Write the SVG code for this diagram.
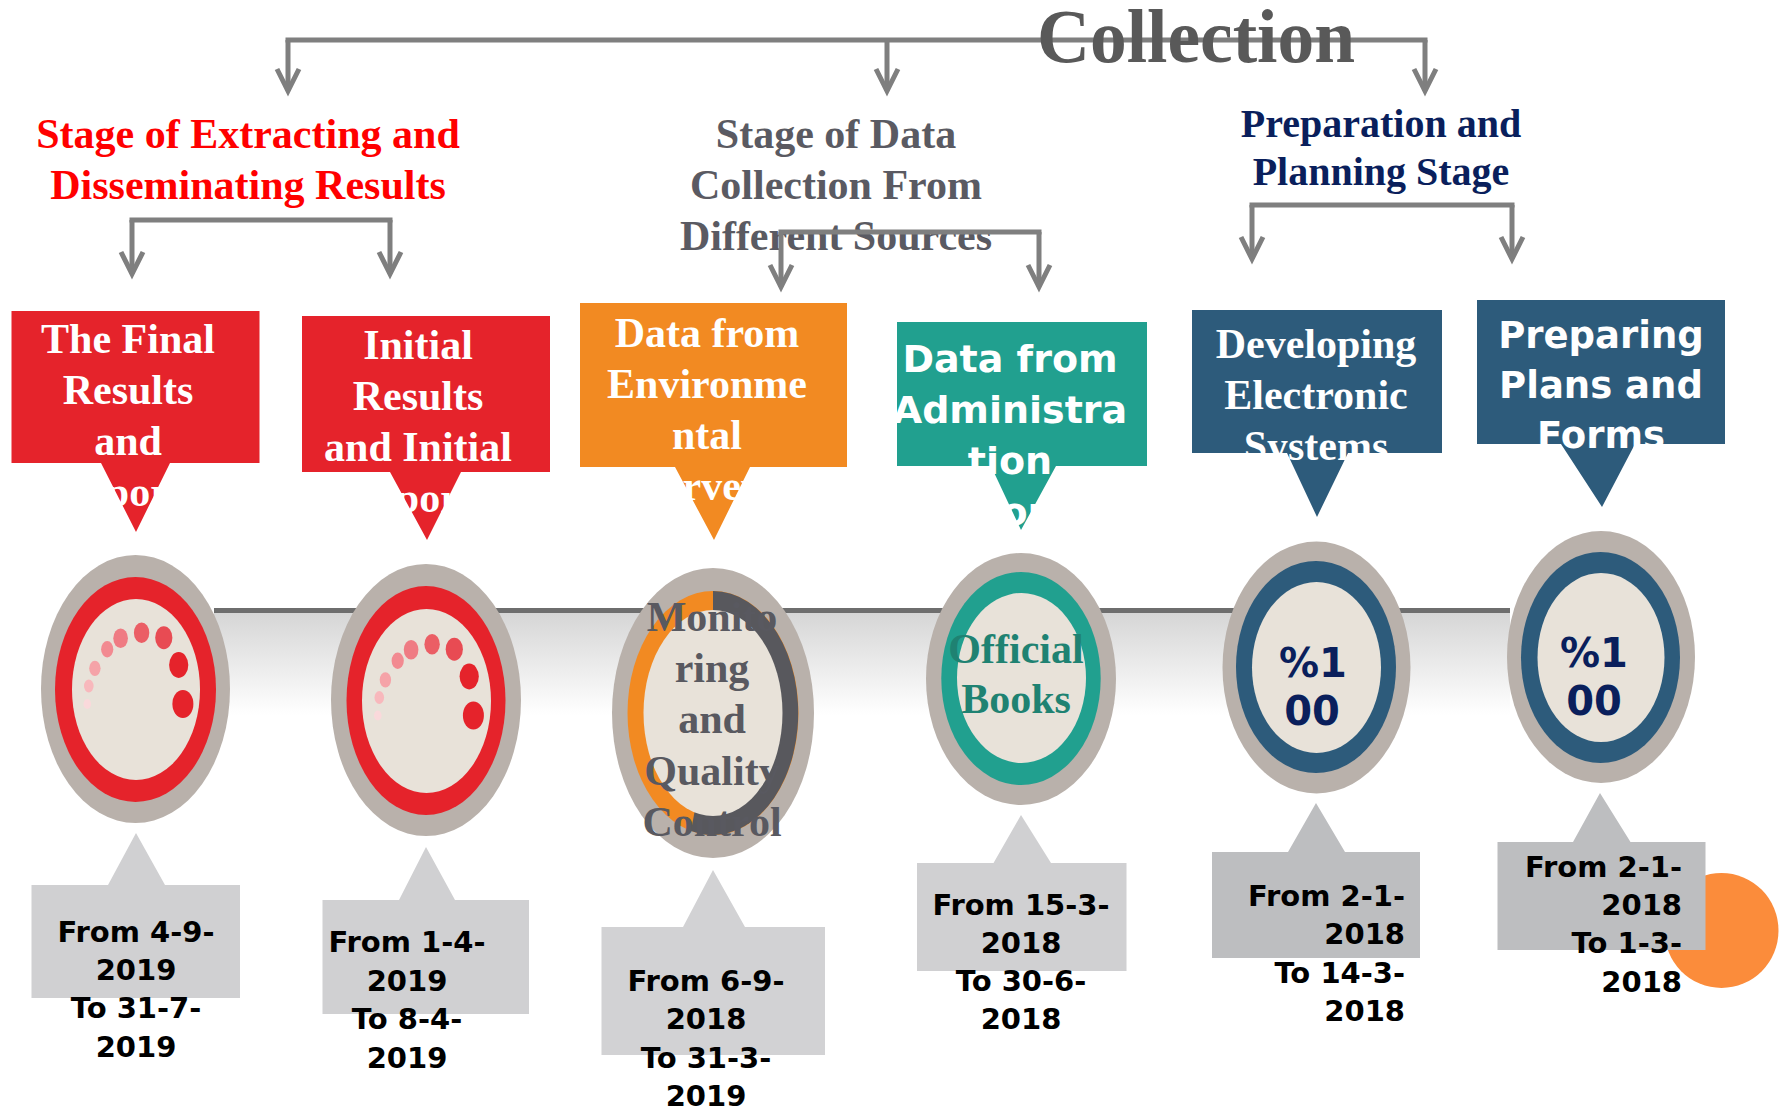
<svg xmlns="http://www.w3.org/2000/svg" width="1783" height="1113" viewBox="0 0 1783 1113">
<style>
.serif{font-family:"Liberation Serif","Times New Roman",serif;font-weight:bold}
.sans{font-family:"DejaVu Sans",Verdana,sans-serif;font-weight:bold}
.w{fill:#ffffff}
.c{text-anchor:middle}
.e{text-anchor:end}
.h42{font-size:42px}
.date{font-family:"DejaVu Sans",Verdana,sans-serif;font-weight:bold;font-size:29px;fill:#000}
.conn{fill:none;stroke:#7F7F7F;stroke-width:5}
.arr{marker-end:url(#ah)}
.outer{fill:#B9B1AB}
.inner{fill:#E8E2D9}
</style>
<defs>
<marker id="ah" markerUnits="userSpaceOnUse" viewBox="-30 -16 36 32" markerWidth="36" markerHeight="32" refX="0" refY="0" orient="auto" overflow="visible">
<path d="M -22 -11 L 0 0 L -22 11" fill="none" stroke="#7F7F7F" stroke-width="5" stroke-linejoin="miter"/>
</marker>
<linearGradient id="band" x1="0" y1="0" x2="0" y2="1">
<stop offset="0" stop-color="#D6D6D6"/>
<stop offset="1" stop-color="#FFFFFF"/>
</linearGradient>
<g id="dots">
<ellipse cx="87.3" cy="704" rx="3.8" ry="5.1" fill="#FAD9DB"/>
<ellipse cx="88.8" cy="686" rx="4.8" ry="6.4" fill="#F8B8BC"/>
<ellipse cx="94.9" cy="668.3" rx="5.7" ry="7.6" fill="#F5A3A8"/>
<ellipse cx="107.2" cy="649.3" rx="6.1" ry="8.2" fill="#F28A91"/>
<ellipse cx="120.6" cy="638.3" rx="7.3" ry="9.8" fill="#EF7B83"/>
<ellipse cx="141.6" cy="632.7" rx="7.7" ry="10.3" fill="#EB5E65"/>
<ellipse cx="163.8" cy="637.7" rx="8.6" ry="11.5" fill="#E84B53"/>
<ellipse cx="178.7" cy="665" rx="9.6" ry="12.9" fill="#E5232B"/>
<ellipse cx="182.9" cy="704" rx="10.5" ry="14" fill="#E5232B"/>
</g>
</defs>
<rect width="1783" height="1113" fill="#ffffff"/>

<!-- timeline band -->
<g id="timeline">
<rect x="214" y="613" width="1296" height="102" fill="url(#band)"/>
<rect x="214" y="608" width="1296" height="5" fill="#6E6E6E"/>
</g>

<!-- headings -->
<g id="heading-extract">
<text class="serif c" x="248" y="148" font-size="42" fill="#FF0000">Stage of Extracting and</text>
<text class="serif c" x="248" y="199" font-size="42" fill="#FF0000">Disseminating Results</text>
</g>
<g id="heading-collection">
<text class="serif c" x="836" y="148" font-size="42" fill="#5A5A62">Stage of Data</text>
<text class="serif c" x="836" y="199" font-size="42" fill="#5A5A62">Collection From</text>
<text class="serif c" x="836" y="250" font-size="42" fill="#5A5A62">Different Sources</text>
</g>
<g id="heading-prep">
<text class="serif c" x="1381" y="137" font-size="40" fill="#0A1F5C">Preparation and</text>
<text class="serif c" x="1381" y="185" font-size="40" fill="#0A1F5C">Planning Stage</text>
</g>

<!-- connectors -->
<g id="connectors">
<path class="conn" d="M 285.5 40 H 1427.5"/>
<path class="conn arr" d="M 288 40 V 91"/>
<path class="conn arr" d="M 887 40 V 91"/>
<path class="conn arr" d="M 1425 40 V 91"/>
<path class="conn" d="M 129.5 220 H 392.5"/>
<path class="conn arr" d="M 132 220 V 274"/>
<path class="conn arr" d="M 390 220 V 274"/>
<path class="conn" d="M 778.5 232 H 1041.5"/>
<path class="conn arr" d="M 781 232 V 287"/>
<path class="conn arr" d="M 1039 232 V 287"/>
<path class="conn" d="M 1249.5 205 H 1514.5"/>
<path class="conn arr" d="M 1252 205 V 259"/>
<path class="conn arr" d="M 1512 205 V 259"/>
</g>

<g id="title">
<text class="serif" x="1037" y="62" font-size="76" fill="#595959" textLength="318" lengthAdjust="spacingAndGlyphs">Collection</text>
</g>

<!-- top callouts -->
<g id="node-final-results">
<path d="M 11.5 311 H 259.5 V 463 H 170 L 136 532 L 101 463 H 11.5 Z" fill="#E5232B"/>
<text class="serif c w h42" x="128" y="353">The Final</text>
<text class="serif c w h42" x="128" y="404">Results</text>
<text class="serif c w h42" x="128" y="455">and</text>
<text class="serif c w h42" x="128" y="506">Reports</text>
</g>
<g id="node-initial-results">
<path d="M 302 316 H 550 V 472 H 461 L 427 540 L 390 472 H 302 Z" fill="#E5232B"/>
<text class="serif c w h42" x="418" y="359">Initial</text>
<text class="serif c w h42" x="418" y="410">Results</text>
<text class="serif c w h42" x="418" y="461">and Initial</text>
<text class="serif c w h42" x="418" y="512">Reports</text>
</g>
<g id="node-env-surveys">
<path d="M 580 303 H 847 V 467 H 750 L 714 540 L 675 467 H 580 Z" fill="#F28A22"/>
<text class="serif c w h42" x="707" y="347">Data from</text>
<text class="serif c w h42" x="707" y="398">Environme</text>
<text class="serif c w h42" x="707" y="449">ntal</text>
<text class="serif c w h42" x="707" y="500">Surveys</text>
</g>
<g id="node-admin-records">
<path d="M 897 322 H 1147 V 466 H 1056 L 1021 530 L 991 466 H 897 Z" fill="#21A08F"/>
<text class="sans c w" font-size="38" x="1010" y="372">Data from</text>
<text class="sans c w" font-size="38" x="1010" y="423">Administra</text>
<text class="sans c w" font-size="38" x="1010" y="474">tion</text>
<text class="sans c w" font-size="38" x="1010" y="525">Records</text>
</g>
<g id="node-electronic-systems">
<path d="M 1192 310 H 1442 V 453 H 1348 L 1317 517 L 1287 453 H 1192 Z" fill="#2D5B7B"/>
<text class="serif c w h42" x="1316" y="358">Developing</text>
<text class="serif c w h42" x="1316" y="409">Electronic</text>
<text class="serif c w h42" x="1316" y="460">Systems</text>
</g>
<g id="node-plans-forms">
<path d="M 1477 300 H 1725 V 444 H 1635 L 1602 507 L 1561 444 H 1477 Z" fill="#2D5B7B"/>
<text class="sans c w" font-size="37" x="1601" y="348">Preparing</text>
<text class="sans c w" font-size="37" x="1601" y="398">Plans and</text>
<text class="sans c w" font-size="37" x="1601" y="448">Forms</text>
</g>

<!-- circles -->
<g id="circle-final">
<ellipse class="outer" cx="135.5" cy="689" rx="94.5" ry="134"/>
<ellipse cx="135.5" cy="689.5" rx="80.5" ry="112.5" fill="#E5232B"/>
<ellipse class="inner" cx="136" cy="689.5" rx="64" ry="90.5"/>
<use href="#dots"/>
</g>
<g id="circle-initial">
<ellipse class="outer" cx="426" cy="700" rx="95" ry="136"/>
<ellipse cx="426" cy="700.5" rx="79.5" ry="114.5" fill="#E5232B"/>
<ellipse class="inner" cx="426.5" cy="701" rx="64.5" ry="92"/>
<use href="#dots" transform="translate(290.5 11.5)"/>
</g>
<g id="circle-monitoring">
<ellipse class="outer" cx="713" cy="713" rx="101" ry="145"/>
<ellipse cx="713" cy="713" rx="85.5" ry="122" fill="#F28A22"/>
<path d="M 713 713 L 713 591 A 85.5 122 0 1 1 691 831 Z" fill="#58585D"/>
<ellipse class="inner" cx="713" cy="713" rx="69.5" ry="103"/>
<text class="serif c h42" x="712" y="631" fill="#595960">Monito</text>
<text class="serif c h42" x="712" y="682" fill="#595960">ring</text>
<text class="serif c h42" x="712" y="733" fill="#595960">and</text>
<text class="serif c h42" x="712" y="785" fill="#595960">Quality</text>
<text class="serif c h42" x="712" y="836" fill="#595960">Control</text>
</g>
<g id="circle-official">
<ellipse class="outer" cx="1021" cy="679" rx="95" ry="126"/>
<ellipse cx="1021" cy="678.5" rx="79.7" ry="106.5" fill="#21A08F"/>
<ellipse class="inner" cx="1021.5" cy="678" rx="64.5" ry="85"/>
<text class="serif c h42" x="1016" y="663" fill="#1F8272">Official</text>
<text class="serif c h42" x="1016" y="713" fill="#1F8272">Books</text>
</g>
<g id="circle-electronic">
<ellipse class="outer" cx="1316.5" cy="667.5" rx="94" ry="126"/>
<ellipse cx="1316" cy="667" rx="80" ry="106" fill="#2D5B7B"/>
<ellipse class="inner" cx="1316.5" cy="667.5" rx="64.5" ry="85.5"/>
<text class="sans c" font-size="40" x="1313" y="677" fill="#0A1F5C">%1</text>
<text class="sans c" font-size="40" x="1312" y="725" fill="#0A1F5C">00</text>
</g>
<g id="circle-plans">
<ellipse class="outer" cx="1601" cy="657" rx="94" ry="126"/>
<ellipse cx="1600.5" cy="657.5" rx="79.5" ry="105.5" fill="#2D5B7B"/>
<ellipse class="inner" cx="1601" cy="657.5" rx="63.5" ry="84.5"/>
<text class="sans c" font-size="40" x="1594" y="667" fill="#0A1F5C">%1</text>
<text class="sans c" font-size="40" x="1594" y="715" fill="#0A1F5C">00</text>
</g>

<!-- bottom date callouts -->
<g id="date-final">
<path d="M 31.5 885 H 108 L 136 833 L 165 885 H 240 V 998 H 31.5 Z" fill="#D0D0D2"/>
<text class="date c" x="136" y="942">From 4-9-</text>
<text class="date c" x="136" y="980">2019</text>
<text class="date c" x="136" y="1018">To 31-7-</text>
<text class="date c" x="136" y="1057">2019</text>
</g>
<g id="date-initial">
<path d="M 322.5 900 H 399 L 426 847 L 455 900 H 529 V 1014 H 322.5 Z" fill="#D0D0D2"/>
<text class="date c" x="407" y="952">From 1-4-</text>
<text class="date c" x="407" y="991">2019</text>
<text class="date c" x="407" y="1029">To 8-4-</text>
<text class="date c" x="407" y="1068">2019</text>
</g>
<g id="date-monitoring">
<path d="M 601.5 927 H 683 L 713 870 L 745 927 H 825 V 1055 H 601.5 Z" fill="#D2D2D4"/>
<text class="date c" x="706" y="991">From 6-9-</text>
<text class="date c" x="706" y="1029">2018</text>
<text class="date c" x="706" y="1068">To 31-3-</text>
<text class="date c" x="706" y="1106">2019</text>
</g>
<g id="date-official">
<path d="M 917 863 H 993.5 L 1021 815 L 1051 863 H 1126.5 V 971 H 917 Z" fill="#D0D0D2"/>
<text class="date c" x="1021" y="915">From 15-3-</text>
<text class="date c" x="1021" y="953">2018</text>
<text class="date c" x="1021" y="991">To 30-6-</text>
<text class="date c" x="1021" y="1029">2018</text>
</g>
<g id="date-electronic">
<path d="M 1212 852 H 1288 L 1316 803 L 1345 852 H 1420 V 958 H 1212 Z" fill="#BDBEC0"/>
<text class="date e" x="1405" y="906">From 2-1-</text>
<text class="date e" x="1405" y="944">2018</text>
<text class="date e" x="1405" y="983">To 14-3-</text>
<text class="date e" x="1405" y="1021">2018</text>
</g>
<g id="date-plans">
<ellipse cx="1721.5" cy="930.5" rx="57" ry="57.5" fill="#FB8C3B"/>
<path d="M 1497.5 842 H 1573 L 1600 793 L 1630.5 842 H 1705.5 V 950 H 1497.5 Z" fill="#BDBEC0"/>
<text class="date e" x="1682" y="877">From 2-1-</text>
<text class="date e" x="1682" y="915">2018</text>
<text class="date e" x="1682" y="953">To 1-3-</text>
<text class="date e" x="1682" y="992">2018</text>
</g>
</svg>
